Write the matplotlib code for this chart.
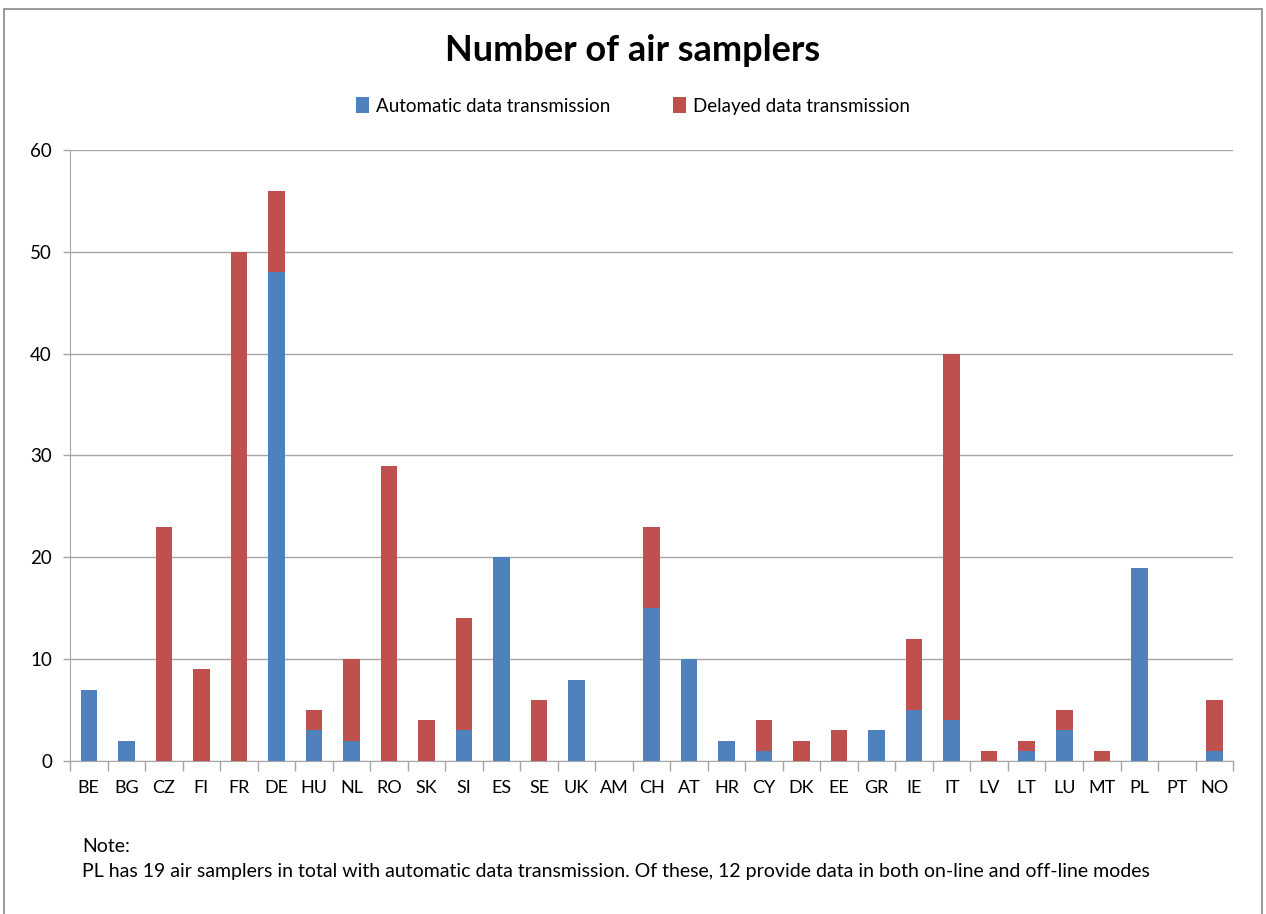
import matplotlib
matplotlib.use("Agg")
import matplotlib.pyplot as plt
import numpy as np

countries = ["BE", "BG", "CZ", "FI", "FR", "DE", "HU", "NL", "RO", "SK", "SI", "ES", "SE", "UK", "AM",
             "CH", "AT", "HR", "CY", "DK", "EE", "GR", "IE", "IT", "LV", "LT", "LU", "MT", "PL", "PT", "NO"]
automatic = [7, 2, 0, 0, 0, 48, 3, 2, 0, 0, 3, 20, 0, 8, 0,
             15, 10, 2, 1, 0, 0, 3, 5, 4, 0, 1, 3, 0, 19, 0, 1]
delayed = [0, 0, 23, 9, 50, 8, 2, 8, 29, 4, 11, 0, 6, 0, 0,
           8, 0, 0, 3, 2, 3, 0, 7, 36, 1, 1, 2, 1, 0, 0, 5]
yticks = [0, 10, 20, 30, 40, 50, 60]

plt.rcParams['font.family'] = ['Lato', 'DejaVu Sans']

fig = plt.figure(figsize=(12.66, 9.14), dpi=100)
fig.patch.set_facecolor("white")
# outer frame
fig.add_artist(plt.Rectangle((0.003, -0.01), 0.994, 1.0, transform=fig.transFigure,
                             fill=False, edgecolor="#888888", linewidth=1.2))

ax = fig.add_axes([0.0553, 0.1674, 0.9187, 0.6685])
x = np.arange(len(countries))
blue = "#4F81BD"
red = "#C0504D"
w = 0.44
ax.bar(x, automatic, width=w, color=blue, label="Automatic data transmission", zorder=3)
ax.bar(x, delayed, width=w, bottom=automatic, color=red, label="Delayed data transmission", zorder=3)

ax.set_xlim(-0.5, len(countries) - 0.5)
ax.set_ylim(0, 60)
ax.set_yticks(yticks)
ax.set_yticklabels([str(v) for v in yticks], fontsize=13.5)
ax.yaxis.grid(True, color="#A6A6A6", linewidth=1.0, zorder=0)
ax.set_axisbelow(True)

ax.set_xticks(x)
ax.set_xticklabels(countries, fontsize=13)
ax.tick_params(axis="x", length=0, pad=14)
ax.set_xticks(np.arange(-0.5, len(countries), 1), minor=True)
ax.tick_params(axis="x", which="minor", length=7, color="#A6A6A6", width=1)
ax.tick_params(axis="y", length=5, color="#A6A6A6", width=1, pad=8)

for s in ["top", "right"]:
    ax.spines[s].set_visible(False)
ax.spines["left"].set_color("#A6A6A6")
ax.spines["bottom"].set_color("#A6A6A6")

fig.text(0.5, 0.945, "Number of air samplers", ha="center", va="center",
         fontsize=26, fontweight="bold")
leg = fig.legend(loc="center", bbox_to_anchor=(0.5, 0.884), ncol=2, frameon=False,
                 fontsize=13.5, handlelength=0.7, handleheight=0.9, handletextpad=0.4,
                 columnspacing=3.3)

fig.text(0.065, 0.074, "Note:", fontsize=14, va="center")
fig.text(0.065, 0.046, "PL has 19 air samplers in total with automatic data transmission. "
         "Of these, 12 provide data in both on-line and off-line modes", fontsize=14, va="center")

fig.savefig("out.png", dpi=100, facecolor="white")
